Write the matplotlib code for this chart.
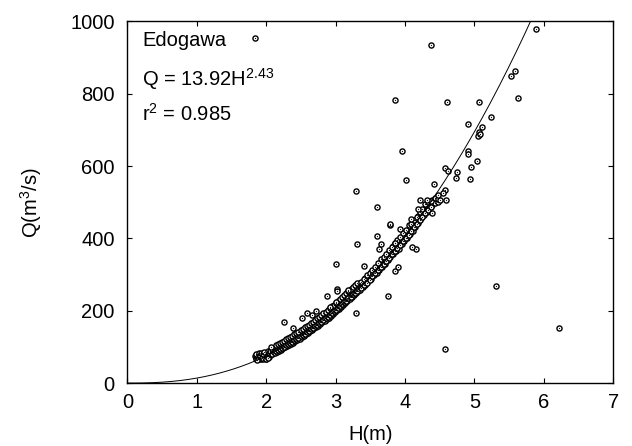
import numpy as np
import matplotlib
matplotlib.use("Agg")
from matplotlib import pyplot as plt

plt.rcParams["font.family"] = ["Liberation Sans", "DejaVu Sans"]
plt.rcParams["mathtext.fontset"] = "custom"
plt.rcParams["mathtext.rm"] = "Liberation Sans"
plt.rcParams["mathtext.it"] = "Liberation Sans"
plt.rcParams["mathtext.default"] = "regular"

# Rating curve Q = a * H^b
COEF_A = 13.92
COEF_B = 2.43
R2 = 0.985

band_h = [
    1.84, 1.85, 1.85, 1.86, 1.87, 1.88, 1.88, 1.89, 1.90, 1.90, 1.91, 1.92,
    1.92, 1.93, 1.94, 1.95, 1.95, 1.96, 1.97, 1.98, 1.98, 1.99, 2.00, 2.00,
    2.01, 2.02, 2.03, 2.04, 2.05, 2.06, 2.07, 2.08, 2.09, 2.10, 2.10,
    1.86, 1.87, 1.89, 1.91, 1.93, 1.94, 1.96, 1.97, 1.99, 2.01, 2.02, 2.03,
    2.04, 2.06, 2.08, 2.09,
    2.12, 2.12, 2.12, 2.15, 2.15, 2.15, 2.18, 2.18, 2.18, 2.21, 2.21, 2.21,
    2.24, 2.24, 2.24, 2.27, 2.27, 2.27, 2.30, 2.30, 2.30, 2.33, 2.33, 2.33,
    2.36, 2.36, 2.36, 2.39, 2.39, 2.39, 2.42, 2.42, 2.42, 2.45, 2.45, 2.45,
    2.48, 2.48, 2.48, 2.51, 2.51, 2.51, 2.54, 2.54, 2.54, 2.57, 2.57, 2.57,
    2.60, 2.60, 2.60, 2.63, 2.63, 2.63, 2.66, 2.66, 2.66, 2.69, 2.69, 2.69,
    2.72, 2.72, 2.72, 2.75, 2.75, 2.75, 2.78, 2.78, 2.78, 2.81, 2.81, 2.81,
    2.84, 2.84, 2.84, 2.87, 2.87, 2.87, 2.90, 2.90, 2.90, 2.93, 2.93, 2.93,
    2.96, 2.96, 2.96, 2.99, 2.99, 2.99, 3.02, 3.02, 3.02, 3.05, 3.05, 3.05,
    3.08, 3.08, 3.08, 3.11, 3.11, 3.11, 3.14, 3.14, 3.14, 3.17, 3.17, 3.17,
    3.20, 3.20, 3.20, 3.23, 3.23, 3.23, 3.26, 3.26, 3.26, 3.29, 3.29, 3.29,
    3.32, 3.32, 3.32,
    3.35, 3.35, 3.35, 3.39, 3.39, 3.43, 3.43, 3.43, 3.47, 3.47, 3.51, 3.51,
    3.51, 3.55, 3.55, 3.59, 3.59, 3.59, 3.63, 3.63, 3.67, 3.67, 3.67, 3.71,
    3.71, 3.75, 3.75, 3.75, 3.79, 3.79, 3.83, 3.83, 3.83, 3.87, 3.87, 3.91,
    3.91, 3.91, 3.95, 3.95, 3.99, 3.99, 4.03, 4.03, 4.07, 4.07, 4.11, 4.11,
    4.15, 4.15, 4.19, 4.19, 4.23, 4.23, 4.27, 4.27, 4.31, 4.31, 4.35, 4.35,
    4.39, 4.39, 4.43, 4.43, 4.47, 4.47,
]
band_q = [
    74, 70, 78, 66, 74, 80, 68, 72, 77, 66, 70, 80,
    74, 67, 76, 71, 82, 68, 75, 80, 70, 73, 78, 68,
    84, 74, 79, 72, 85, 78, 82, 88, 80, 86, 92,
    80, 64, 82, 76, 84, 70, 80, 86, 66, 76, 88, 70,
    82, 90, 80, 94,
    84, 91, 98, 86, 93, 101, 90, 96, 104, 92, 100, 108,
    96, 103, 111, 99, 107, 114, 102, 110, 118, 106, 113, 121,
    109, 117, 125, 112, 121, 129, 116, 124, 133, 120, 128, 136,
    123, 132, 140, 127, 135, 144, 131, 139, 148, 135, 143, 152,
    139, 147, 156, 143, 151, 160, 147, 155, 164, 151, 159, 168,
    155, 164, 172, 159, 168, 177, 164, 172, 181, 168, 177, 186,
    172, 181, 190, 177, 186, 195, 181, 190, 199, 186, 195, 204,
    191, 200, 209, 196, 205, 214, 201, 210, 219, 206, 215, 224,
    211, 220, 229, 216, 225, 234, 221, 230, 240, 226, 236, 245,
    232, 241, 250, 237, 246, 256, 243, 252, 262, 248, 258, 268,
    254, 264, 273,
    258, 268, 276, 266, 276, 272, 284, 290, 282, 294, 288, 300,
    306, 298, 310, 304, 316, 322, 314, 326, 322, 336, 340, 330,
    344, 340, 352, 360, 348, 364, 356, 370, 378, 366, 382, 372,
    390, 396, 384, 400, 392, 410, 400, 420, 412, 430, 420, 444,
    432, 452, 444, 462, 456, 470, 466, 480, 474, 490, 484, 500,
    492, 506, 498, 512, 502, 510,
]

# Second layer of the band, between the rows above
band2_h = [
    2.135, 2.135, 2.165, 2.165, 2.195, 2.195, 2.225, 2.225, 2.255, 2.255,
    2.285, 2.285, 2.315, 2.315, 2.345, 2.345, 2.375, 2.375, 2.405, 2.405,
    2.435, 2.435, 2.465, 2.465, 2.495, 2.495, 2.525, 2.525, 2.555, 2.555,
    2.585, 2.585, 2.615, 2.615, 2.645, 2.645, 2.675, 2.675, 2.705, 2.705,
    2.735, 2.735, 2.765, 2.765, 2.795, 2.795, 2.825, 2.825, 2.855, 2.855,
    2.885, 2.885, 2.915, 2.915, 2.945, 2.945, 2.975, 2.975, 3.005, 3.005,
    3.035, 3.035, 3.065, 3.065, 3.095, 3.095, 3.125, 3.125, 3.155, 3.155,
    3.185, 3.185, 3.215, 3.215, 3.245, 3.245, 3.275, 3.275, 3.305, 3.305,
    3.37, 3.37, 3.41, 3.41, 3.45, 3.45, 3.49, 3.49, 3.53, 3.53, 3.57, 3.57,
    3.61, 3.61, 3.65, 3.65, 3.69, 3.69, 3.73, 3.73, 3.77, 3.77, 3.81, 3.81,
    3.85, 3.85, 3.89, 3.89, 3.93, 3.93, 3.97, 3.97, 4.01, 4.01, 4.05, 4.05,
    4.09, 4.09, 4.13, 4.13, 4.17, 4.17, 4.21, 4.21, 4.25, 4.25, 4.29, 4.29,
    4.33, 4.33, 4.37, 4.37,
]
band2_q = [
    89, 104, 92, 107, 95, 110, 98, 114, 101, 117,
    105, 121, 108, 124, 111, 128, 115, 131, 118, 135,
    122, 139, 126, 142, 129, 146, 133, 150, 137, 154,
    141, 158, 145, 162, 149, 166, 153, 170, 157, 175,
    162, 179, 166, 184, 170, 188, 175, 193, 179, 197,
    184, 202, 188, 207, 193, 212, 198, 217, 203, 222,
    208, 227, 213, 232, 218, 237, 223, 243, 228, 248,
    234, 254, 239, 259, 245, 265, 250, 270, 256, 276,
    262, 280, 270, 288, 278, 298, 286, 304, 296, 314, 304, 322,
    312, 332, 320, 342, 330, 350, 338, 358, 346, 368, 356, 376,
    364, 386, 374, 396, 382, 404, 392, 414, 402, 424, 410, 436,
    420, 440, 432, 450, 440, 460, 450, 472, 460, 482, 470, 494,
    478, 500, 488, 504,
]

# Scattered observations away from the band
outlier_h = [
    1.84, 4.38, 3.86, 3.95, 4.02, 4.61, 5.06, 5.62, 5.59, 5.52, 5.89, 5.24,
    4.90, 5.11, 5.06, 5.07, 5.05, 5.08, 4.57, 4.62, 4.75, 4.74, 4.41, 4.94,
    4.95, 5.03, 4.91, 4.91, 4.51, 4.59, 4.39, 5.31, 6.21, 4.58, 3.76, 3.79,
    3.93, 4.09, 4.19, 4.16, 4.10, 3.86, 3.90, 3.30, 3.60, 3.79, 3.60, 3.66,
    3.63, 3.31, 3.01, 3.41, 3.30, 3.02, 3.02, 2.88, 2.92, 2.71, 2.66, 2.52,
    3.18, 3.00, 2.59, 2.39, 2.25, 2.07, 4.21, 4.31, 4.57, 4.55, 4.48, 3.85,
]
outlier_q = [
    955, 936, 784, 643, 562, 776, 776, 787, 862, 848, 978, 737,
    715, 709, 687, 693, 682, 690, 596, 587, 584, 568, 551, 565,
    598, 615, 643, 634, 507, 507, 471, 269, 152, 94, 241, 438,
    426, 454, 482, 371, 377, 310, 321, 532, 488, 440, 407, 385,
    371, 385, 330, 324, 194, 260, 255, 241, 211, 199, 188, 180,
    258, 224, 194, 152, 169, 100, 507, 507, 535, 526, 520, 388,
]

x_ticks = [0, 1, 2, 3, 4, 5, 6, 7]
y_ticks = [0, 200, 400, 600, 800, 1000]


def main():
    fig = plt.figure(figsize=(6.32, 4.46), dpi=100)
    ax = fig.add_axes([0.2015, 0.141, 0.769, 0.811])

    h_all = np.array(band_h + band2_h + outlier_h)
    q_all = np.array(band_q + band2_q + outlier_q)

    # Open circles with a small centre dot
    ax.plot(h_all, q_all, "o", ms=3.7, mfc="white", mec="black", mew=1.0,
            ls="none")
    ax.plot(h_all, q_all, "o", ms=0.7, mfc="black", mec="black", mew=0.2,
            ls="none")

    # Fitted rating curve
    h_fit = np.linspace(0, 7, 400)
    ax.plot(h_fit, COEF_A * h_fit ** COEF_B, color="black", lw=0.7)

    ax.set_xlim(0, 7)
    ax.set_ylim(0, 1000)
    ax.set_xticks(x_ticks)
    ax.set_yticks(y_ticks)
    ax.tick_params(direction="in", length=3.5, width=0.8, labelsize=14.5,
                   top=True, right=True)
    ax.tick_params(axis="x", pad=7)
    ax.tick_params(axis="y", pad=9)
    for s in ax.spines.values():
        s.set_linewidth(1.0)

    ax.set_xlabel("H(m)", fontsize=14.5)
    ax.set_ylabel("Q(m$^3$/s)", fontsize=14.5)
    ax.xaxis.set_label_coords(0.5, -0.115)
    ax.yaxis.set_label_coords(-0.172, 0.5)

    ax.text(0.03, 0.932, "Edogawa", transform=ax.transAxes, fontsize=14.5,
            va="baseline")
    ax.text(0.03, 0.822, "Q = %.2fH$^{%.2f}$" % (COEF_A, COEF_B),
            transform=ax.transAxes, fontsize=14.5, va="baseline")
    ax.text(0.03, 0.725, "r$^2$ = %.3f" % R2, transform=ax.transAxes,
            fontsize=14.5, va="baseline")

    fig.savefig("out.png", dpi=100)


if __name__ == "__main__":
    main()
